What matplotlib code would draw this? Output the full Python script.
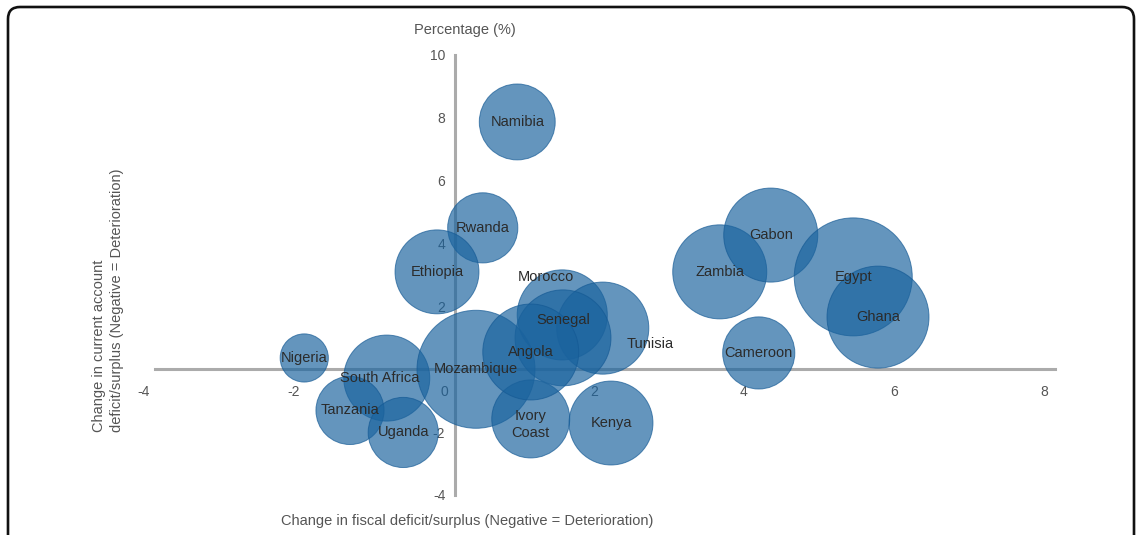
import matplotlib
matplotlib.use("Agg")
import matplotlib.pyplot as plt
import matplotlib.transforms as mtransforms
from matplotlib.patches import FancyBboxPatch

# --- data -------------------------------------------------------------
countries = ["Namibia", "Rwanda", "Ethiopia", "Nigeria", "South Africa",
             "Tanzania", "Uganda", "Mozambique", "Ivory\nCoast", "Kenya",
             "Morocco", "Tunisia", "Senegal", "Angola", "Zambia", "Gabon",
             "Egypt", "Ghana", "Cameroon"]
fiscal_change = [0.83, 0.37, -0.24, -2.01, -0.91, -1.40, -0.69, 0.28, 1.01,
                 2.08, 1.43, 1.97, 1.44, 1.01, 3.53, 4.21, 5.31, 5.64, 4.05]
current_account_change = [7.87, 4.50, 3.10, 0.36, -0.28, -1.31, -2.01, 0.00,
                          -1.58, -1.71, 1.73, 1.31, 1.00, 0.55, 3.10, 4.27,
                          2.94, 1.66, 0.52]
bubble_size = [14.4, 12.3, 17.6, 5.8, 18.5, 11.6, 12.3, 34.8, 15.2, 17.6,
               20.3, 21.2, 23.0, 23.0, 22.1, 22.1, 34.8, 26.0, 13.0]

x_ticks = [-4, -2, 0, 2, 4, 6, 8]
y_ticks = [-4, -2, 2, 4, 6, 8, 10]

# label nudges in points (most labels sit on the bubble centre)
label_offsets = {"Morocco": (-12, 27), "Tunisia": (34, -11.5),
                 "Senegal": (0, 13), "Ivory\nCoast": (0, -4),
                 "South Africa": (-5, 0)}

# --- figure -------------------------------------------------------------
plt.rcParams["font.family"] = ["Liberation Sans", "DejaVu Sans"]
W, H = 1137, 535
fig = plt.figure(figsize=(W / 100, H / 100), dpi=100)
fig.patch.set_facecolor("white")

ax = fig.add_axes([155 / W, 1 - 495 / H, 900 / W, 440 / H])
ax.set_xlim(-4, 8)
ax.set_ylim(-4, 10)
ax.set_facecolor("none")

bubble_rgb = (0.10, 0.39, 0.62)
ax.scatter(fiscal_change, current_account_change,
           s=[v * 207.4 for v in bubble_size],
           color=bubble_rgb, alpha=0.68, edgecolors=[(0.08, 0.35, 0.58)],
           linewidths=0.7, zorder=1)

for name, xv, yv in zip(countries, fiscal_change, current_account_change):
    dx, dy = label_offsets.get(name, (0, 0))
    ax.annotate(name, (xv, yv), xytext=(dx, dy), textcoords="offset points",
                ha="center", va="center", fontsize=10.5, color="#2b2b2b",
                linespacing=1.3, zorder=3)

# axes crossing at the origin
for side in ("top", "right"):
    ax.spines[side].set_visible(False)
ax.spines["left"].set_position(("data", 0))
ax.spines["bottom"].set_position(("data", 0))
for side in ("left", "bottom"):
    ax.spines[side].set_color("#ababab")
    ax.spines[side].set_linewidth(2.2)
    ax.spines[side].set_zorder(0.5)
ax.set_axisbelow(True)

ax.set_xticks(x_ticks)
ax.set_xticklabels([str(t) for t in x_ticks])
ax.set_yticks(y_ticks)
ax.set_yticklabels([str(t) for t in y_ticks])
ax.tick_params(axis="both", length=0, labelsize=10, labelcolor="#555555")
ax.tick_params(axis="x", pad=11.5)
ax.tick_params(axis="y", pad=7)

shift = mtransforms.ScaledTranslation(-11 / 100, 0, fig.dpi_scale_trans)
for lbl in ax.get_xticklabels():
    lbl.set_transform(lbl.get_transform() + shift)

# titles
fig.text(465 / W, 1 - 30 / H, "Percentage (%)", ha="center", va="center",
         fontsize=10.5, color="#555555")
fig.text(467 / W, 1 - 521 / H,
         "Change in fiscal deficit/surplus (Negative = Deterioration)",
         ha="center", va="center", fontsize=10.5, color="#555555")
fig.text(108 / W, 1 - 300 / H,
         "Change in current account\ndeficit/surplus (Negative = Deterioration)",
         ha="center", va="center", rotation=90, multialignment="left",
         fontsize=10.5, color="#555555", linespacing=1.4)

# rounded frame around the panel
frame = FancyBboxPatch((8, -30), 1126, 558,
                       boxstyle="round,pad=0,rounding_size=12",
                       transform=mtransforms.IdentityTransform(),
                       facecolor="none", edgecolor="#111111", linewidth=1.9)
fig.add_artist(frame)

fig.savefig("out.png", dpi=100)
